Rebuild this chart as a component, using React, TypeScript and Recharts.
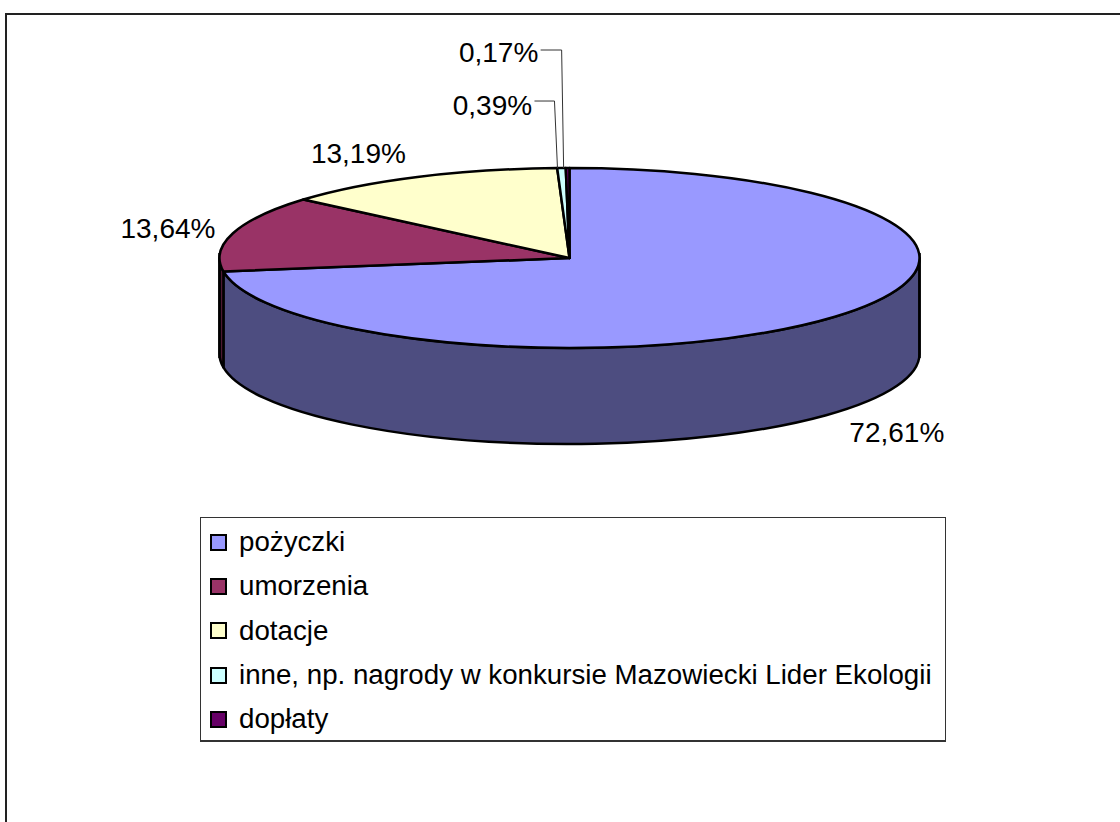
import React from 'react';
import { PieChart, Pie, Cell, Legend } from 'recharts';

const categories = ['pożyczki', 'umorzenia', 'dotacje', 'inne, np. nagrody w konkursie Mazowiecki Lider Ekologii', 'dopłaty'];
const shares = [72.61, 13.64, 13.19, 0.39, 0.17];
const topColors = ['#9999FF', '#993366', '#FFFFCC', '#CCFFFF', '#660066'];
const wallColors = ['#4D4D80', '#4D1933', '#808066', '#668080', '#330033'];

const rows = categories.map((name, i) => ({ name, value: shares[i], idx: i }));

const FONT = '"Liberation Sans", Arial, sans-serif';
const RATIO = 90 / 350;
const DEPTH = 96;
const RAD = Math.PI / 180;

const labelOffsets = [
  { dx: 62, dy: 116 },
  { dx: -65, dy: -5 },
  { dx: -59, dy: -23 },
  { dx: -69, dy: -63 },
  { dx: -69, dy: -116 },
];
const leaderOffsets: (number[][] | null)[] = [
  null,
  null,
  null,
  [[-4, 0], [-7, -67], [-27, -67]],
  [[-4, 0], [-6, -118], [-27, -118]],
];

const pt = (cx: number, cy: number, r: number, a: number) => ({
  x: cx + r * Math.cos(a * RAD),
  y: cy - r * RATIO * Math.sin(a * RAD),
});

const SliceShape = (p: any) => {
  const { cx, cy, outerRadius: r, startAngle, endAngle, fill, idx, index } = p;
  const k = idx ?? index ?? 0;
  const ry = r * RATIO;
  const s = pt(cx, cy, r, startAngle);
  const e = pt(cx, cy, r, endAngle);
  const large = Math.abs(startAngle - endAngle) > 180 ? 1 : 0;
  const top = `M${cx},${cy} L${s.x},${s.y} A${r},${ry} 0 ${large} 1 ${e.x},${e.y} Z`;
  const ws = Math.min(startAngle, 0);
  const we = Math.max(endAngle, -180);
  let wall: string | null = null;
  if (ws > we) {
    const a = pt(cx, cy, r, ws);
    const b = pt(cx, cy, r, we);
    wall = `M${a.x},${a.y} A${r},${ry} 0 0 1 ${b.x},${b.y} L${b.x},${b.y + DEPTH} A${r},${ry} 0 0 0 ${a.x},${a.y + DEPTH} Z`;
  }
  const edges: number[] = [];
  if (ws === 0 && ws > we) edges.push(cx + r);
  if (we === -180 && ws > we) edges.push(cx - r);
  return (
    <g>
      {wall && <path d={wall} fill={wallColors[k]} stroke="#000" strokeWidth={2.5} strokeLinejoin="round" />}
      {edges.map((x) => (
        <line key={x} x1={x} x2={x} y1={cy - 5} y2={cy + DEPTH + 4} stroke="#000" strokeWidth={2.5} />
      ))}
      <path d={top} fill={fill} stroke="#000" strokeWidth={2.5} strokeLinejoin="round" />
    </g>
  );
};

const renderLabel = (p: any) => {
  const { cx, cy, outerRadius, midAngle, value, index } = p;
  const o = pt(cx, cy, outerRadius, midAngle);
  const off = labelOffsets[index];
  return (
    <text
      x={o.x + off.dx}
      y={o.y + off.dy}
      textAnchor="middle"
      dominantBaseline="central"
      fontFamily={FONT}
      fontSize={28}
      fill="#000"
    >
      {Number(value).toFixed(2).replace('.', ',')}%
    </text>
  );
};

const renderLeader = (p: any) => {
  const { cx, cy, outerRadius, midAngle, index } = p;
  const segs = leaderOffsets[index];
  if (!segs) return <g />;
  const o = pt(cx, cy, outerRadius, midAngle);
  return (
    <polyline
      points={segs.map(([dx, dy]) => `${o.x + dx},${o.y + dy}`).join(' ')}
      fill="none"
      stroke="#333"
      strokeWidth={1}
    />
  );
};

const LegendBox = ({ payload }: any) => (
  <div
    style={{
      boxSizing: 'border-box',
      width: 746,
      height: 225,
      border: '1px solid #333',
      borderBottomWidth: 2,
      background: '#fff',
      padding: '2px 0 0 9px',
      fontFamily: FONT,
      fontSize: 27.7,
      color: '#000',
    }}
  >
    {(payload || []).map((it: any) => (
      <div key={it.value} style={{ display: 'flex', alignItems: 'center', height: 44.3, whiteSpace: 'nowrap' }}>
        <span
          style={{
            boxSizing: 'border-box',
            display: 'inline-block',
            width: 17,
            height: 17,
            background: it.color,
            border: '2px solid #000',
            marginRight: 12,
          }}
        />
        {it.value}
      </div>
    ))}
  </div>
);

export default function App() {
  return (
    <div style={{ position: 'absolute', left: 0, top: 0, width: 1120, height: 822, overflow: 'hidden', background: '#fff' }}>
      <div style={{ position: 'absolute', left: 5, top: 13, width: 1115, height: 2, background: '#222' }} />
      <div style={{ position: 'absolute', left: 5, top: 13, width: 2, height: 809, background: '#222' }} />
      <div style={{ position: 'absolute', left: 0, top: 0 }}>
        <PieChart width={1120} height={822} margin={{ top: 0, right: 0, bottom: 0, left: 0 }}>
          <Pie
            data={rows}
            dataKey="value"
            nameKey="name"
            cx={569.5}
            cy={258}
            innerRadius={0}
            outerRadius={350}
            startAngle={90}
            endAngle={-270}
            paddingAngle={0}
            isAnimationActive={false}
            shape={SliceShape}
            label={renderLabel}
            labelLine={renderLeader}
          >
            {rows.map((r, i) => (
              <Cell key={r.name} fill={topColors[i]} />
            ))}
          </Pie>
          <Legend
            layout="vertical"
            itemSorter={null}
            content={<LegendBox />}
            wrapperStyle={{ position: 'absolute', left: 200, top: 517, width: 746, height: 225, bottom: 'auto', right: 'auto' }}
          />
        </PieChart>
      </div>
    </div>
  );
}
